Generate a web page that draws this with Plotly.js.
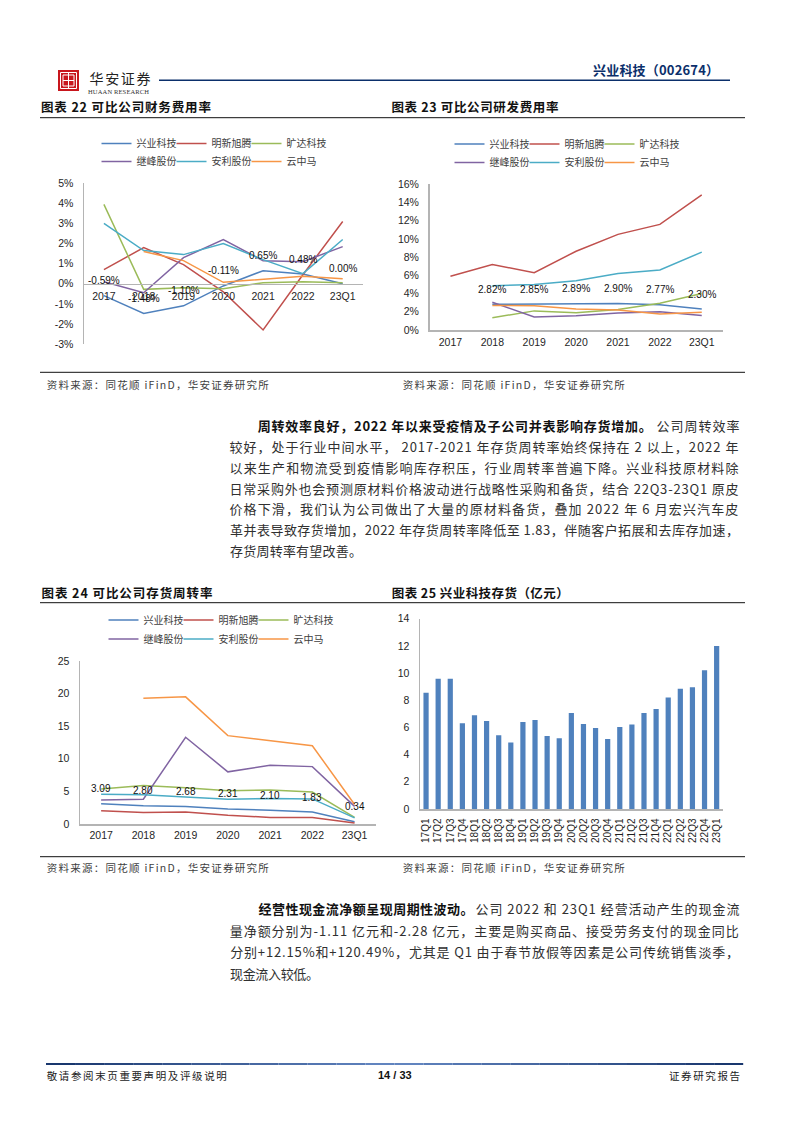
<!DOCTYPE html>
<html><head><meta charset="utf-8">
<script src="https://cdn.plot.ly/plotly-3.0.0.min.js"></script>
<style>html,body{margin:0;padding:0;background:#fff}#page{width:794px;height:1123px}</style>
</head><body><div id="page"></div>
<script>
// ---------- data ----------
const companies = ['兴业科技','明新旭腾','旷达科技','继峰股份','安利股份','云中马'];
const colors = ['#4F81BD','#C0504D','#9BBB59','#8064A2','#4BACC6','#F79646'];
const years = ['2017','2018','2019','2020','2021','2022','23Q1'];

const fin_xingye = [-0.59,-1.48,-1.10,-0.11,0.65,0.48,0.00];
const fin_mingxin = [0.7,1.8,0.95,-0.4,-2.3,0.45,3.1];
const fin_kuangda = [3.95,-0.28,-0.2,-0.25,0.05,0.1,0.05];
const fin_jifeng = [0.1,-0.45,1.3,2.2,1.15,1.1,1.85];
const fin_anli = [3.0,1.65,1.45,2.0,1.2,0.5,2.2];
const fin_yunzhongma = [null,1.6,1.15,0.07,0.22,0.37,0.25];

const rd_xingye = [null,2.82,2.85,2.89,2.90,2.77,2.30];
const rd_mingxin = [5.9,7.2,6.3,8.65,10.5,11.6,14.85];
const rd_kuangda = [null,1.35,2.1,1.9,2.25,2.95,4.0];
const rd_jifeng = [null,3.05,1.43,1.57,1.87,2.0,1.6];
const rd_anli = [null,4.85,5.0,5.4,6.2,6.6,8.55];
const rd_yunzhongma = [null,2.7,2.65,2.3,2.2,1.75,1.95];

const inv_xingye = [3.09,2.80,2.68,2.31,2.10,1.83,0.34];
const inv_mingxin = [2.05,1.75,1.85,1.35,1.0,1.0,0.15];
const inv_kuangda = [5.35,5.9,5.55,5.1,5.2,4.9,1.0];
const inv_jifeng = [3.7,3.8,13.3,8.0,9.0,8.8,2.7];
const inv_anli = [4.55,4.5,4.15,3.8,3.9,3.85,0.95];
const inv_yunzhongma = [null,19.3,19.5,13.55,12.75,12.0,3.0];

const quarters = ['17Q1','17Q2','17Q3','17Q4','18Q1','18Q2','18Q3','18Q4','19Q1','19Q2','19Q3','19Q4','20Q1','20Q2','20Q3','20Q4','21Q1','21Q2','21Q3','21Q4','22Q1','22Q2','22Q3','22Q4','23Q1'];
const stock = [8.55,9.58,9.58,6.3,6.9,6.47,5.42,4.9,6.4,6.55,5.37,5.2,7.06,6.25,5.95,5.15,6.03,6.22,7.06,7.35,8.2,8.85,8.95,10.2,12.0];

const finTicks = [-3,-2,-1,0,1,2,3,4,5];
const rdTicks = [0,2,4,6,8,10,12,14,16];
const invTicks = [0,5,10,15,20,25];
const stockTicks = [0,2,4,6,8,10,12,14];

const finLabels = ['-0.59%','-1.48%','-1.10%','-0.11%','0.65%','0.48%','0.00%'];
const rdLabels = [null,'2.82%','2.85%','2.89%','2.90%','2.77%','2.30%'];
const invLabels = ['3.09','2.80','2.68','2.31','2.10','1.83','0.34'];

const titles = ['图表 22 可比公司财务费用率','图表 23 可比公司研发费用率','图表 24 可比公司存货周转率','图表 25 兴业科技存货（亿元）'];
const sourceText = '资料来源：同花顺 iFinD，华安证券研究所';
const para1Lead = '周转效率良好，2022 年以来受疫情及子公司并表影响存货增加。';
const para1Lines = ['公司周转效率',
 '较好，处于行业中间水平， 2017-2021 年存货周转率始终保持在 2 以上，2022 年',
 '以来生产和物流受到疫情影响库存积压，行业周转率普遍下降。兴业科技原材料除',
 '日常采购外也会预测原材料价格波动进行战略性采购和备货，结合 22Q3-23Q1 原皮',
 '价格下滑，我们认为公司做出了大量的原材料备货，叠加 2022 年 6 月宏兴汽车皮',
 '革并表导致存货增加，2022 年存货周转率降低至 1.83，伴随客户拓展和去库存加速，',
 '存货周转率有望改善。'];
const para2Lead = '经营性现金流净额呈现周期性波动。';
const para2Lines = ['公司 2022 和 23Q1 经营活动产生的现金流',
 '量净额分别为-1.11 亿元和-2.28 亿元，主要是购买商品、接受劳务支付的现金同比',
 '分别+12.15%和+120.49%，尤其是 Q1 由于春节放假等因素是公司传统销售淡季，',
 '现金流入较低。'];

// ---------- helpers ----------
const W = 794, H = 1123;
const SANS = '"Liberation Sans", Arial, sans-serif';
const CJK = '"Noto Sans CJK SC", "Noto Sans", sans-serif';
const px = x => x / W, py = y => 1 - y / H;
const AXIS = '#B4B4B4', TXT = '#1f1f1f';

const traces = [], annotations = [], shapes = [], stretch = [];

// Text with a given width is centred on its span and stretched to fill it.
function note(x, y, text, size, color, opts) {
  opts = opts || {};
  const xc = opts.width ? x + opts.width / 2 : x;
  annotations.push({xref:'paper', yref:'paper', x:px(xc), y:py(y), text:text, showarrow:false,
    xanchor:'center', yanchor:'middle', borderpad:0,
    font:{family:opts.family||CJK, size:size, color:color, weight:opts.bold?700:400}});
  if (opts.width) stretch.push([annotations.length-1, opts.width]);
}
function rule(x0, x1, y, color, w) {
  shapes.push({type:'line', xref:'paper', yref:'paper', x0:px(x0), x1:px(x1), y0:py(y), y1:py(y), line:{color:color, width:w}});
}
function box(x0, y0, x1, y1, fill, line, lw) {
  shapes.push({type:'rect', xref:'paper', yref:'paper', x0:px(x0), x1:px(x1), y0:py(y0), y1:py(y1),
    fillcolor:fill, line:{color:line||fill, width:lw||0}});
}
function lineChart(ax, series, labels, row1Legend, row2Legend) {
  series.forEach((vals, i) => {
    traces.push({type:'scatter', mode:'lines', x:years, y:vals, name:companies[i],
      xaxis:'x'+ax, yaxis:'y'+ax, line:{color:colors[i], width:1.5},
      legend: i < 3 ? row1Legend : row2Legend, hoverinfo:'skip'});
  });
  labels.forEach((t, i) => {
    if (t === null) return;
    annotations.push({xref:'x'+ax, yref:'y'+ax, x:i, y:series[0][i], text:t, showarrow:false,
      yshift:15, xanchor:'center', yanchor:'middle', borderpad:0, font:{family:SANS, size:10, color:'#111111'}});
  });
}
function xAxis(x0, x1, extra) {
  return Object.assign({domain:[px(x0), px(x1)], type:'category', showgrid:false, zeroline:false,
    showline:true, linecolor:AXIS, linewidth:1.5, ticks:'', tickfont:{family:SANS, size:10.5, color:TXT},
    fixedrange:true}, extra||{});
}
function yAxis(y0, y1, range, tickvals, suffix, anchor) {
  return {domain:[py(y1), py(y0)], range:range, tickvals:tickvals, ticktext:tickvals.map(v => v + suffix),
    showgrid:false, zeroline:false, showline:true, linecolor:AXIS, linewidth:1.5, ticks:'',
    ticklabelstandoff:7, tickfont:{family:SANS, size:10.5, color:TXT}, anchor:anchor, fixedrange:true};
}

// ---------- charts ----------
lineChart('', [fin_xingye,fin_mingxin,fin_kuangda,fin_jifeng,fin_anli,fin_yunzhongma], finLabels, 'legend', 'legend2');
lineChart('2', [rd_xingye,rd_mingxin,rd_kuangda,rd_jifeng,rd_anli,rd_yunzhongma], rdLabels, 'legend3', 'legend4');
lineChart('3', [inv_xingye,inv_mingxin,inv_kuangda,inv_jifeng,inv_anli,inv_yunzhongma], invLabels, 'legend5', 'legend6');
traces.push({type:'bar', x:quarters, y:stock, xaxis:'x4', yaxis:'y4', marker:{color:'#4F81BD'}, showlegend:false, hoverinfo:'skip', name:'存货'});

function legendAt(x, y) {
  return {x:px(x), y:py(y), xanchor:'left', yanchor:'middle', orientation:'h', bgcolor:'rgba(0,0,0,0)',
    borderwidth:0, itemwidth:30, entrywidth:30, entrywidthmode:'pixels', traceorder:'normal',
    font:{family:CJK, size:10, color:'#404040'}, itemclick:false, itemdoubleclick:false};
}

const layout = {
  width:W, height:H, margin:{l:0,r:0,t:0,b:0,pad:0}, paper_bgcolor:'#fff', plot_bgcolor:'rgba(0,0,0,0)',
  showlegend:true, bargap:0.57, hovermode:false,
  legend:legendAt(96.5,143.5), legend2:legendAt(96.5,161.5),
  legend3:legendAt(449.5,144), legend4:legendAt(449.5,162.5),
  legend5:legendAt(103.5,620), legend6:legendAt(103.5,639),
  xaxis:xAxis(84,362.6,{anchor:'free', position:py(283.5), range:[-0.5,6.5], ticklabelstandoff:2}),
  yaxis:yAxis(183.3,344,[-3,5],finTicks,'%','x'),
  xaxis2:xAxis(429.5,722.7,{anchor:'y2', range:[-0.5,6.5], ticklabelstandoff:2}),
  yaxis2:yAxis(184.3,330,[0,16],rdTicks,'%','x2'),
  xaxis3:xAxis(80,375.7,{anchor:'y3', range:[-0.5,6.5], ticklabelstandoff:1}),
  yaxis3:yAxis(661,824,[0,25],invTicks,'','x3'),
  xaxis4:xAxis(420,722.7,{anchor:'y4', range:[-0.5,24.5], tickangle:-90, tickfont:{family:SANS,size:10,color:TXT}, ticklabelstandoff:4}),
  yaxis4:yAxis(618.7,809,[0,14],stockTicks,'','x4'),
  annotations:annotations, shapes:shapes
};

// ---------- page furniture ----------
// header
box(58,70,79,91,'#C8161D');
box(60.5,72.5,76.5,88.5,'rgba(0,0,0,0)','#ffffff',1);
box(63,75,74,86,'rgba(0,0,0,0)','#ffffff',1);
shapes.push({type:'line',xref:'paper',yref:'paper',x0:px(68.5),x1:px(68.5),y0:py(73),y1:py(88),line:{color:'#fff',width:1}});
rule(63,74,80.5,'#fff',1);
note(89,78,'华安证券',14,'#222222',{width:61});
note(88,91.7,'HUAAN RESEARCH',6.5,'#333333',{family:'"Liberation Serif", serif',width:61});
rule(159,730,80.3,'#0B2F6B',1.5);
note(593,69.5,'兴业科技（002674）',13,'#0B2F6B',{bold:true,width:126});

// titles and rules
[[41,106.7,170],[391,106.7,167],[41,592,171],[391,592,177]].forEach((p,i)=>note(p[0],p[1],titles[i],12.5,'#111111',{bold:true,width:p[2]}));
rule(40,745,117.7,'#111111',1);
rule(40,745,602.7,'#111111',1);
rule(40,745,372.3,'#111111',1);
rule(40,745,856.7,'#111111',1);
[[47,384],[403,384],[47,867],[403,867]].forEach(p=>note(p[0],p[1],sourceText,10.5,'#404040',{width:222}));

// body text
const p1y = [425,446,467,488,508.5,529.5,550.5];
note(258,p1y[0],para1Lead,13,'#111111',{bold:true,width:394});
note(656,p1y[0],para1Lines[0],13,'#303030',{width:83});
for (let i=1;i<para1Lines.length;i++) note(229.5,p1y[i],para1Lines[i],13,'#303030',{width:i<6?509:132});
const p2y = [908,930,951,973];
note(258,p2y[0],para2Lead,13,'#111111',{bold:true,width:215});
note(475,p2y[0],para2Lines[0],13,'#303030',{width:264});
note(229.5,p2y[1],para2Lines[1],13,'#303030',{width:509});
note(229.5,p2y[2],para2Lines[2],13,'#303030',{width:509});
note(229.5,p2y[3],para2Lines[3],13,'#303030',{width:89});

// footer
for (let i=0;i<24;i++){
  const t = 1-Math.abs(i-11.5)/11.5, r=Math.round(25+t*75), g=Math.round(55+t*80), b=Math.round(110+t*85);
  box(46+i*29.05,1063,46+(i+1)*29.05,1065,'rgb('+r+','+g+','+b+')');
}
note(47,1075,'敬请参阅末页重要声明及评级说明',10.5,'#222222',{width:180});
note(395,1075,'14 / 33',11,'#111111',{family:SANS,bold:true});
note(668.5,1075,'证券研究报告',10.5,'#222222',{width:71});

Plotly.newPlot('page', traces, layout, {displayModeBar:false, staticPlot:true, responsive:false}).then(gd => {
  stretch.forEach(s => {
    const t = gd.querySelector('.annotation[data-index="'+s[0]+'"] text');
    if (t) { t.setAttribute('textLength', s[1]); t.setAttribute('lengthAdjust','spacing'); }
  });
  // legends are narrower than their last entry's text; do not clip it
  gd.querySelectorAll('.scrollbox, g[class^="legend"]').forEach(n => n.removeAttribute('clip-path'));
});
</script></body></html>
